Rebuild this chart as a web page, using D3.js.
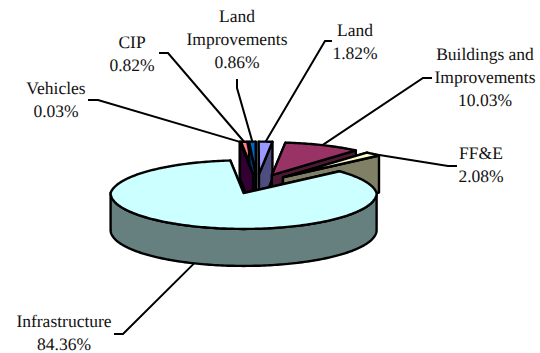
<!DOCTYPE html>
<html>
<head>
<meta charset="utf-8">
<script src="https://cdn.jsdelivr.net/npm/d3@7/dist/d3.min.js"></script>
<style>
html,body{margin:0;padding:0;background:#fff}
svg{display:block}
</style>
</head>
<body>
<svg id="chart" width="540" height="353"></svg>
<script>
// Asset shares, clockwise in drawing order
const categories = ["Infrastructure","Vehicles","CIP","Land Improvements","Land","Buildings and Improvements","FF&E"];
const shares = [84.36,0.03,0.82,0.86,1.82,10.03,2.08];
const labelLines = [["Infrastructure","84.36%"],["Vehicles","0.03%"],["CIP","0.82%"],["Land","Improvements","0.86%"],["Land","1.82%"],["Buildings and","Improvements","10.03%"],["FF&E","2.08%"]];
const topColors = ["#CCFFFF","#660066","#FF8080","#0066CC","#9999FF","#993366","#FFFFCC"];
const wallColors = ["#668080","#330033","#804040","#003366","#4D4D80","#4D1A33","#808066"];

// Label centre, first baseline, and the elbow/end of each leader line
const labelAt = [[64,327],[56,94],[132,48],[237,22],[355,36],[485,60],[481,159]];
const leaderEnds = [[[114,334],[123,334]],[[88,100],[98,100]],[[159,53],[168,53]],[[237,79],[237,88]],[[332,41],[325,41]],[[432,78],[423,78]],[[457,166],[448,166]]];

const cx = 257, cy = 184, rx = 133, tilt = 0.27, farShrink = 0.09, explode = 36, depth = 37;
const startAngle = 50 * Math.PI / 180;

const arcs = d3.pie().sort(null).value(d => d).startAngle(startAngle).endAngle(startAngle + 2 * Math.PI)(shares);
const svg = d3.select("#chart");

const radiusAt = a => rx * (1 - farShrink * Math.max(0, Math.cos(a)));
const apexOf = d => {
  const m = (d.startAngle + d.endAngle) / 2;
  return [cx + explode * Math.sin(m), cy - explode * tilt * Math.cos(m)];
};
const rimPoint = (d, a) => {
  const [ax, ay] = apexOf(d), r = radiusAt(a);
  return [ax + r * Math.sin(a), ay - r * tilt * Math.cos(a)];
};
const rimPoints = (d, a0, a1) => {
  const n = Math.max(2, Math.ceil((a1 - a0) / 0.02));
  return d3.range(n + 1).map(i => rimPoint(d, a0 + (a1 - a0) * i / n));
};
const drop = p => [p[0], p[1] + depth];
const line = d3.line();
const closed = pts => line(pts) + "Z";
const strokeStyle = sel => sel.attr("stroke", "#000").attr("stroke-width", 2.4).attr("stroke-linejoin", "round");

// Back slices first, the large front slice last; the Vehicles sliver sits over the cut faces behind it
const order = [2, 3, 1, 4, 5, 6, 0];
const pieGroup = svg.append("g");
order.forEach(i => {
  const d = arcs[i], apex = apexOf(d);
  const g = pieGroup.append("g");
  // cut faces
  [d.startAngle, d.endAngle].forEach(a => {
    const rim = rimPoint(d, a);
    g.append("path").attr("d", closed([apex, rim, drop(rim), drop(apex)]))
      .attr("fill", wallColors[i]).call(strokeStyle);
  });
  // visible front part of the outer wall
  const frontFrom = Math.max(d.startAngle, Math.PI / 2), frontTo = Math.min(d.endAngle, 3 * Math.PI / 2);
  if (frontTo > frontFrom) {
    const rim = rimPoints(d, frontFrom, frontTo);
    g.append("path").attr("d", closed(rim.concat(rim.slice().reverse().map(drop))))
      .attr("fill", wallColors[i]).call(strokeStyle);
  }
  // top surface
  g.append("path").attr("d", closed([apex].concat(rimPoints(d, d.startAngle, d.endAngle))))
    .attr("fill", topColors[i]).call(strokeStyle);
});

// Leader lines run from each slice rim out to its label
arcs.forEach((d, i) => {
  const m = (d.startAngle + d.endAngle) / 2;
  const rim = rimPoint(d, m);
  const from = i === 0 ? drop(rim) : rim;
  svg.append("path").attr("d", line([from].concat(leaderEnds[i].slice().reverse())))
    .attr("fill", "none").attr("stroke", "#000").attr("stroke-width", 2);
});

// Category and percentage labels
labelLines.forEach((lines, i) => {
  const t = svg.append("text").attr("text-anchor", "middle")
    .style("font-family", "'Liberation Serif'").style("font-size", "17.5px").style("fill", "#111")
    .style("text-rendering", "geometricPrecision")
    .attr("aria-label", categories[i]);
  lines.forEach((s, j) => {
    t.append("tspan").attr("x", labelAt[i][0]).attr("y", labelAt[i][1] + j * 23).text(s);
  });
});
</script>
</body>
</html>
